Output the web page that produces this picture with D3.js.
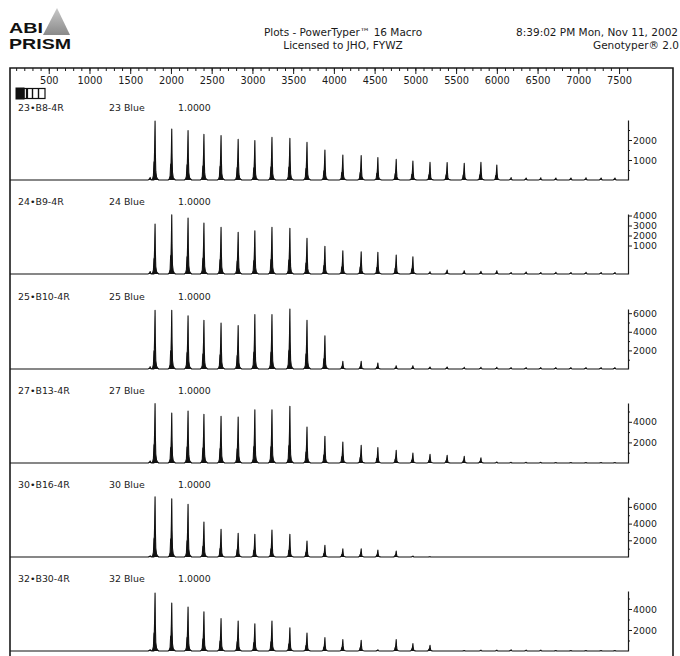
<!DOCTYPE html>
<html>
<head>
<meta charset="utf-8">
<script src="https://cdn.jsdelivr.net/npm/d3@7"></script>
<style>
  body { margin: 0; background: #fff; }
  svg { display: block; font-family: "DejaVu Sans", sans-serif; }
  .axis path, .axis line { stroke: #1a1a1a; }
  .axis text { fill: #1a1a1a; }
</style>
</head>
<body>
<svg id="chart" width="680" height="656"></svg>
<script>
// ladder peak positions, in scan numbers
const PEAK_SCANS = [1745, 1805, 2010, 2210, 2405, 2615, 2825, 3030, 3240, 3460, 3670,
  3890, 4110, 4335, 4540, 4765, 4970, 5180, 5390, 5600, 5805, 6000,
  6175, 6360, 6540, 6725, 6910, 7095, 7280, 7450];

// one panel per lane
const SAMPLES = ["23\u2022B8-4R", "24\u2022B9-4R", "25\u2022B10-4R", "27\u2022B13-4R", "30\u2022B16-4R", "32\u2022B30-4R"];
const DYES = ["23 Blue", "24 Blue", "25 Blue", "27 Blue", "30 Blue", "32 Blue"];
const FACTORS = ["1.0000", "1.0000", "1.0000", "1.0000", "1.0000", "1.0000"];

// peak heights (RFU) as read against each panel's own axis
const H23 = [130, 2950, 2550, 2470, 2280, 2220, 2030, 1970, 2130, 2080, 1880, 1500, 1250, 1220, 1120,
  1030, 950, 880, 870, 830, 880, 750, 120, 100, 110, 100, 100, 110, 100, 100];
const H24 = [-1600, 3150, 4080, 3750, 3250, 2820, 2320, 2480, 2820, 2720, 1720, 920, 480, 380, 320,
  50, -120, -1620, -1450, -1520, -1580, -1520, -1700, -1650, -1700, -1680, -1700, -1680, -1700, -1700];
const H25 = [250, 6310, 6310, 5730, 5240, 4950, 4660, 5840, 5840, 6450, 5240, 3580, 830, 830, 650,
  350, 350, 220, 220, 180, 180, 180, 150, 150, 150, 150, 150, 150, 150, 150];
const H27 = [200, 5760, 4850, 5050, 4730, 4530, 4470, 5170, 5170, 5500, 3500, 2590, 2040, 1720, 1490,
  1230, 970, 840, 750, 650, 510, 100, 70, 70, 70, 50, 50, 50, 50, 50];
const H30 = [150, 7220, 6980, 6310, 4190, 3320, 2840, 2720, 3230, 2720, 1920, 1400, 990, 990, 840,
  720, 120, 40, 0, 0, 0, 0, 0, 0, 0, 0, 0, 0, 0, 0];
const H32 = [130, 5520, 4570, 4190, 3740, 3080, 2860, 2600, 2860, 2220, 1710, 1270, 1080, 1020, 120,
  1080, 700, 540, 0, 50, 80, 80, 120, 80, 80, 50, 50, 50, 50, 50];
const HEIGHTS = [H23, H24, H25, H27, H30, H32];

// value at the trace baseline and at the top of each panel's axis
const BASES = [0, -1850, 0, 0, 0, 0];
const TOPS = [3000, 4150, 6450, 5825, 7185, 5714];
const MAJOR_TICKS = [[1000, 2000], [1000, 2000, 3000, 4000], [2000, 4000, 6000],
  [2000, 4000], [2000, 4000, 6000], [2000, 4000]];
const MINOR_TICKS = [[500, 1500, 2500], [], [1000, 3000, 5000], [1000, 3000, 5000],
  [1000, 3000, 5000, 7000], [1000, 3000, 5000]];

const RULER_LABELS = [500, 1000, 1500, 2000, 2500, 3000, 3500, 4000, 4500, 5000, 5500, 6000, 6500, 7000, 7500];
const SCAN_MAX = 7610;

// layout
const FRAME = { l: 10, r: 673, t: 68, b: 660 };
const AXIS_X = 628;
const PANEL_BASE = [180, 274, 369, 463, 557, 651];
const PANEL_H = 60;
const INK = "#1a1a1a";

// peak outline, offsets in scans and fraction of height
const SHAPE_DX = [-45, -30, -20, -14, -9, -5, 0, 4, 9, 18, 30, 45];
const SHAPE_F = [0, 0.02, 0.08, 0.30, 0.33, 0.55, 1, 0.45, 0.15, 0.05, 0.02, 0];

const svg = d3.select("#chart");
const x = d3.scaleLinear().domain([0, SCAN_MAX]).range([8, AXIS_X]);

// ---- header ----
const grad = svg.append("defs").append("linearGradient")
  .attr("id", "mtn").attr("x1", 0).attr("y1", 0).attr("x2", 0).attr("y2", 1);
grad.append("stop").attr("offset", "0%").attr("stop-color", "#c8c8c8");
grad.append("stop").attr("offset", "100%").attr("stop-color", "#8a8a8a");
svg.append("path").attr("d", "M43,35 L57,8 L70,35 Z").attr("fill", "url(#mtn)");

const logoFont = "Liberation Sans, Arial, sans-serif";
svg.append("text").attr("x", 9).attr("y", 33)
  .attr("font-family", logoFont).attr("font-weight", "bold").attr("font-size", 14)
  .attr("textLength", 34).attr("lengthAdjust", "spacingAndGlyphs")
  .attr("fill", "#111").text("ABI");
svg.append("text").attr("x", 9).attr("y", 49)
  .attr("font-family", logoFont).attr("font-weight", "bold").attr("font-size", 14)
  .attr("textLength", 62).attr("lengthAdjust", "spacingAndGlyphs")
  .attr("fill", "#111").text("PRISM");

const head = svg.append("g").attr("font-size", 10.5).attr("fill", INK);
head.append("text").attr("x", 343).attr("y", 36).attr("text-anchor", "middle")
  .text("Plots - PowerTyper\u2122 16 Macro");
head.append("text").attr("x", 343).attr("y", 49).attr("text-anchor", "middle")
  .text("Licensed to JHO, FYWZ");
head.append("text").attr("x", 678).attr("y", 36).attr("text-anchor", "end")
  .text("8:39:02 PM Mon, Nov 11, 2002");
head.append("text").attr("x", 679).attr("y", 49).attr("text-anchor", "end")
  .text("Genotyper\u00ae 2.0");

// ---- frame ----
svg.append("path")
  .attr("d", `M${FRAME.l},${FRAME.b} V${FRAME.t} H${FRAME.r} V${FRAME.b}`)
  .attr("fill", "none").attr("stroke", INK).attr("stroke-width", 1.6);

// ---- scan ruler ----
const minor = svg.append("g").attr("class", "axis")
  .attr("transform", `translate(0,${FRAME.t})`)
  .call(d3.axisBottom(x).tickValues(d3.range(100, 7601, 100)).tickSize(3).tickFormat(""));
minor.select(".domain").remove();

const ruler = svg.append("g").attr("class", "axis")
  .attr("transform", `translate(0,${FRAME.t})`)
  .call(d3.axisBottom(x).tickValues(RULER_LABELS).tickSize(6).tickPadding(3).tickFormat(d3.format("d")));
ruler.select(".domain").remove();
ruler.selectAll("text").attr("font-size", 9.8).attr("font-family", "DejaVu Sans, sans-serif");

// little lane selector box
const box = svg.append("g").attr("stroke", "#111").attr("fill", "none");
box.append("rect").attr("x", 16).attr("y", 88).attr("width", 8).attr("height", 11).attr("fill", "#111");
box.append("rect").attr("x", 24).attr("y", 88.5).attr("width", 21).attr("height", 10).attr("stroke-width", 1.2);
[27, 32.5, 38.5].forEach((lx, i) => {
  box.append("line").attr("x1", lx).attr("x2", lx).attr("y1", 88.5).attr("y2", 98.5)
    .attr("stroke-width", i === 0 ? 2.2 : 1.4);
});

// ---- panels ----
HEIGHTS.forEach((heights, p) => {
  const base = BASES[p];
  const yb = PANEL_BASE[p];
  const y = d3.scaleLinear().domain([base, TOPS[p]]).range([yb, yb - PANEL_H]);
  const g = svg.append("g");

  // text row
  const row = g.append("g").attr("font-size", 9.4).attr("fill", INK);
  row.append("text").attr("x", 18).attr("y", yb - 69).text(SAMPLES[p]);
  row.append("text").attr("x", 109).attr("y", yb - 69).text(DYES[p]);
  row.append("text").attr("x", 178).attr("y", yb - 69).text(FACTORS[p]);

  // trace: flat baseline plus one spike per ladder peak
  const pts = [[25, base]];
  PEAK_SCANS.forEach((s, i) => {
    SHAPE_DX.forEach((dx, j) => pts.push([s + dx, base + SHAPE_F[j] * (heights[i] - base)]));
  });
  pts.push([SCAN_MAX, base]);

  g.append("path").datum(pts)
    .attr("d", d3.area().x(d => x(d[0])).y0(yb).y1(d => y(d[1])))
    .attr("fill", "#111");
  g.append("path").datum(pts)
    .attr("d", d3.line().x(d => x(d[0])).y(d => y(d[1])))
    .attr("fill", "none").attr("stroke", "#111").attr("stroke-width", 1.1)
    .attr("stroke-linejoin", "round");

  // right-hand intensity axis
  const ax = g.append("g").attr("class", "axis").attr("transform", `translate(${AXIS_X},0)`);
  ax.call(d3.axisRight(y).tickValues(MAJOR_TICKS[p]).tickSize(4).tickSizeOuter(0).tickPadding(1)
    .tickFormat(d3.format("d")));
  ax.selectAll("text").attr("font-size", 9.4).attr("font-family", "DejaVu Sans, sans-serif");
  ax.select(".domain").attr("stroke-width", 1.2);
  const mn = g.append("g").attr("class", "axis").attr("transform", `translate(${AXIS_X},0)`)
    .call(d3.axisRight(y).tickValues(MINOR_TICKS[p]).tickSize(2).tickFormat(""));
  mn.select(".domain").remove();
});
</script>
</body>
</html>
